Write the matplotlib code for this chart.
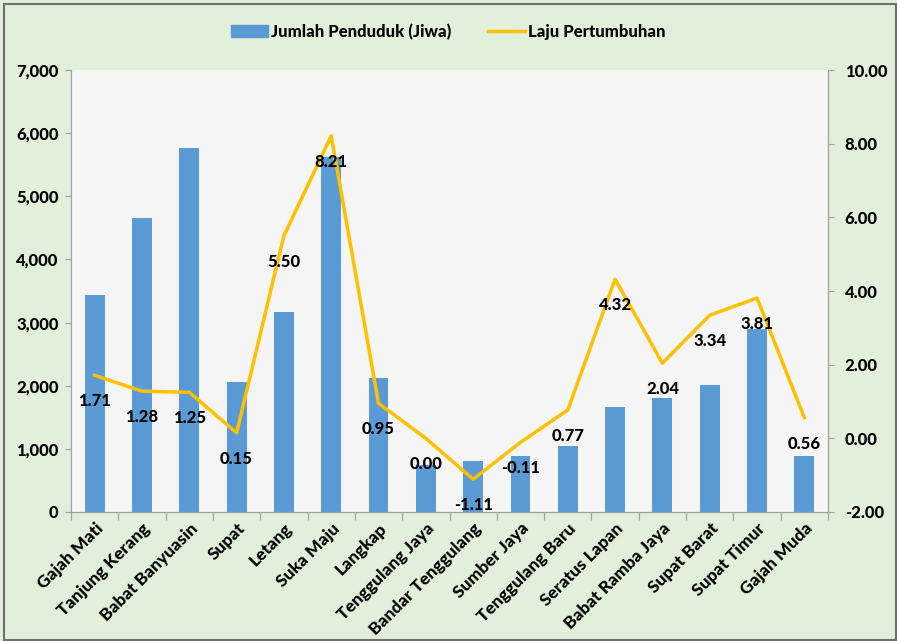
import matplotlib.pyplot as plt
import numpy as np
from matplotlib.patches import Rectangle
from matplotlib.lines import Line2D
from matplotlib.ticker import FuncFormatter

desa = ["Gajah Mati", "Tanjung Kerang", "Babat Banyuasin", "Supat", "Letang",
        "Suka Maju", "Langkap", "Tenggulang Jaya", "Bandar Tenggulang",
        "Sumber Jaya", "Tenggulang Baru", "Seratus Lapan", "Babat Ramba Jaya",
        "Supat Barat", "Supat Timur", "Gajah Muda"]
penduduk = [3440, 4660, 5760, 2060, 3170, 5620, 2130, 750, 800,
            890, 1045, 1670, 1800, 2010, 2900, 890]
laju = [1.71, 1.28, 1.25, 0.15, 5.50, 8.21, 0.95, 0.00, -1.11,
        -0.11, 0.77, 4.32, 2.04, 3.34, 3.81, 0.56]

font = ['Lato', 'DejaVu Sans']
plt.rcParams['font.family'] = font
plt.rcParams['font.weight'] = 'black'
W = 'black'

bg = '#e2efda'
fig = plt.figure(figsize=(8.97, 6.41), dpi=100, facecolor=bg)
ax = fig.add_axes([71/897, 1-512/641, (828-71)/897, (512-70)/641])
ax.set_facecolor('#f5f5f5')

x = np.arange(len(desa))
ax.bar(x, penduduk, width=0.42, color='#5b9bd5', zorder=2)
ax.set_xlim(-0.5, len(desa)-0.5)
ax.set_ylim(0, 7000)
ax.set_yticks(np.arange(0, 7001, 1000))
ax.yaxis.set_major_formatter(FuncFormatter(lambda v, p: f"{int(v):,}"))
ax.set_xticks(np.arange(-0.5, len(desa), 1))
ax.set_xticklabels([])
ax.set_xticks(x, minor=True)
ax.set_xticklabels(desa, minor=True, rotation=45, ha='right', rotation_mode='anchor',
                   fontsize=12.5, fontweight=W)
ax.tick_params(axis='x', which='minor', length=0, pad=6)
ax.tick_params(axis='x', which='major', length=6, color='#a0a0a0')
ax.tick_params(axis='y', length=4, color='#a0a0a0', labelsize=12, pad=5)
for t in ax.get_yticklabels():
    t.set_fontweight(W)

ax2 = ax.twinx()
ax2.plot(x, laju, color='#ffc000', lw=2.5, zorder=3)
ax2.set_ylim(-2, 10)
ax2.set_yticks(np.arange(-2, 10.1, 2))
ax2.yaxis.set_major_formatter(FuncFormatter(lambda v, p: f"{v:.2f}"))
ax2.tick_params(axis='y', length=4, color='#a0a0a0', labelsize=12, pad=8)
for t in ax2.get_yticklabels():
    t.set_fontweight(W)

for xi, v in zip(x, laju):
    ax2.annotate(f"{v:.2f}", (xi, v), xytext=(0, -26), textcoords='offset pixels',
                 ha='center', va='center', fontsize=12, fontweight=W, color='black')

for a in (ax, ax2):
    for s in a.spines.values():
        s.set_color('#a0a0a0')
    a.spines['top'].set_visible(False)

handles = [Rectangle((0, 0), 1, 1, color='#5b9bd5'),
           Line2D([0], [0], color='#ffc000', lw=2.5)]
fig.legend(handles, ["Jumlah Penduduk (Jiwa)", "Laju Pertumbuhan"],
           loc='center', bbox_to_anchor=(0.5, 1-32/641), ncol=2, frameon=False,
           prop={'size': 12, 'weight': W}, handlelength=2.2, columnspacing=2.2,
           handletextpad=0.2)

fig.patches.append(Rectangle((4/897, 1/641), 892/897, 636/641, transform=fig.transFigure,
                             fill=False, edgecolor='#707070', lw=1.5))

fig.savefig('out.png', dpi=100, facecolor=bg)
